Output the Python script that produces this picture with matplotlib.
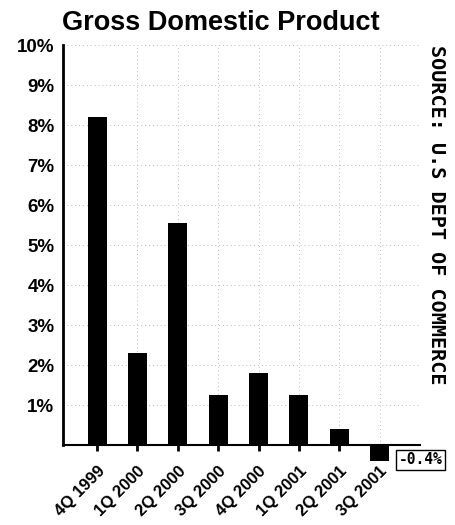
import matplotlib.pyplot as plt
import numpy as np

quarters = ["4Q 1999", "1Q 2000", "2Q 2000", "3Q 2000",
            "4Q 2000", "1Q 2001", "2Q 2001", "3Q 2001"]
growth = [8.2, 2.3, 5.55, 1.25, 1.8, 1.25, 0.4, -0.4]
yticks = [1, 2, 3, 4, 5, 6, 7, 8, 9, 10]
ytick_labels = ["1%", "2%", "3%", "4%", "5%", "6%", "7%", "8%", "9%", "10%"]

plt.rcParams['font.family'] = ['Liberation Sans', 'DejaVu Sans']

fig = plt.figure(figsize=(4.55, 5.25), dpi=100)
ax = fig.add_axes([0.138, 0.152, 0.785, 0.762])

x = np.arange(len(quarters))
ax.bar(x, growth, width=0.47, color="black", zorder=3, clip_on=False)

ax.set_xlim(-0.85, 8.0)
ax.set_ylim(0, 10)

# dotted grid
for yv in yticks:
    ax.axhline(yv, color="#bbbbbb", lw=0.7, ls=(0, (1, 3)), zorder=1)
for xv in list(x[1:]) + [8]:
    ax.axvline(xv, color="#bbbbbb", lw=0.7, ls=(0, (1, 3)), zorder=1)

ax.spines["top"].set_visible(False)
ax.spines["right"].set_visible(False)
ax.spines["left"].set_linewidth(2)
ax.spines["bottom"].set_linewidth(1.5)

ax.set_yticks(yticks)
ax.set_yticklabels(ytick_labels, fontsize=13.5, fontweight="bold")
ax.tick_params(axis="y", length=0, pad=6)

ax.set_xticks(x)
ax.set_xticklabels(quarters, rotation=45, ha="right", rotation_mode="anchor",
                   fontsize=12, fontweight="bold")
ax.tick_params(axis="x", length=4, width=2, pad=9)

fig.text(0.136, 0.957, "Gross Domestic Product", fontsize=19.5, fontweight="bold",
         ha="left", va="center")

fig.text(0.96, 0.915, "SOURCE: U.S DEPT OF COMMERCE", rotation=-90,
         family="DejaVu Sans Mono", fontweight="bold", fontsize=14.5,
         ha="center", va="top")

fig.text(0.876, 0.124, "-0.4%", family="DejaVu Sans Mono",
         fontweight="bold", fontsize=10.5, ha="left", va="center",
         bbox=dict(boxstyle="square,pad=0.15", fc="white", ec="black", lw=1))

plt.savefig("out.png")
